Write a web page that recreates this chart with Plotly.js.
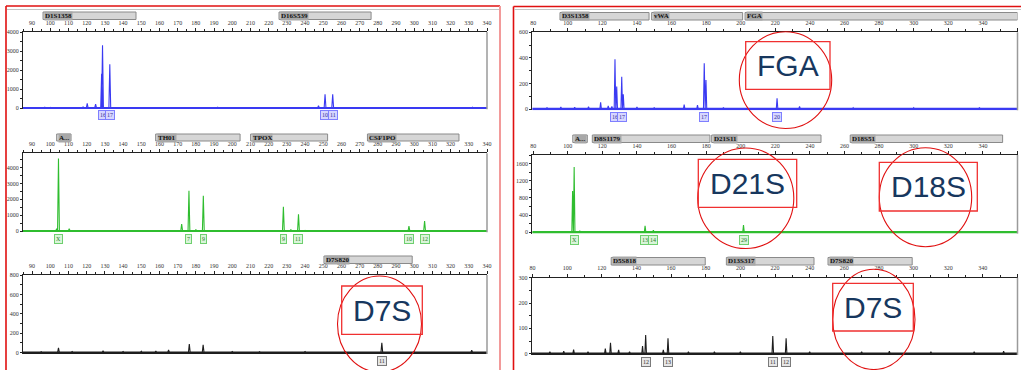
<!DOCTYPE html>
<html>
<head>
<meta charset="utf-8">
<script src="https://cdn.plot.ly/plotly-3.0.1.min.js"></script>
<style>
  html, body { margin: 0; padding: 0; background: #fff; }
  #plot { width: 1021px; height: 370px; }
</style>
</head>
<body>
<div id="plot"></div>
<script>
// ===================== Run A (left profile) =====================
// Blue dye: D1S1358, D16S539
const runABlueLoci = ['D1S1358', 'D16S539'];
const runABlueLociStart = [96, 225.7];
const runABlueLociEnd = [147.1, 276.3];
const runABlueSizes = [92, 97, 100, 107, 118, 120.3, 124.9, 128.2, 128.7, 132.7, 150, 158, 167, 180, 192, 228, 247.4, 251.0, 255.2, 332];
const runABlueHeights = [30, 40, 30, 30, 60, 250, 200, 1800, 3300, 2300, 25, 25, 20, 35, 40, 25, 120, 720, 720, 40];
const runABlueAlleles = ['16', '17', '10', '11'];
const runABlueAlleleSizes = [128.7, 132.7, 251.0, 255.2];

// Green dye: Amelogenin, TH01, TPOX, CSF1PO
const runAGreenLoci = ['A...', 'TH01', 'TPOX', 'CSF1PO'];
const runAGreenLociStart = [103.5, 157.9, 210.1, 274.3];
const runAGreenLociEnd = [111.4, 204.3, 252.4, 324.6];
const runAGreenSizes = [95, 103.5, 104.5, 110.4, 130, 135, 172.2, 176.2, 180.0, 184.1, 228.1, 232.2, 236.4, 240, 297.1, 305.7];
const runAGreenHeights = [40, 150, 4570, 150, 40, 30, 440, 2530, 100, 2220, 1530, 100, 1050, 40, 310, 630];
const runAGreenAlleles = ['X', '7', '9', '9', '11', '10', '12'];
const runAGreenAlleleSizes = [104.5, 176.2, 184.1, 228.1, 236.4, 297.1, 305.7];

// Black dye: D7S820
const runABlackLoci = ['D7S820'];
const runABlackLociStart = [250.4];
const runABlackLociEnd = [298.9];
const runABlackSizes = [95, 104.5, 112, 129, 140, 150, 158, 165, 176.4, 184, 200, 215, 240, 262, 282.2, 300, 331.6];
const runABlackHeights = [10, 50, 12, 20, 12, 14, 18, 30, 90, 80, 12, 10, 12, 10, 103, 10, 25];
const runABlackAlleles = ['11'];
const runABlackAlleleSizes = [282.2];

// ===================== Run B (right profile) =====================
// Blue dye: D3S1358, vWA, FGA
const runBBlueLoci = ['D3S1358', 'vWA', 'FGA'];
const runBBlueLociStart = [95.5, 148.5, 202.5];
const runBBlueLociEnd = [147.0, 201.1, 360];
const runBBlueSizes = [88, 96, 104, 112, 119, 123.4, 125.5, 127.3, 128.3, 131.2, 132.1, 140, 150, 167.3, 175, 178.9, 179.9, 190, 221, 234, 265, 300, 338];
const runBBlueHeights = [12, 15, 14, 18, 52, 25, 20, 390, 175, 253, 115, 15, 12, 35, 30, 357, 227, 12, 84, 20, 10, 10, 12];
const runBBlueAlleles = ['16', '17', '17', '20'];
const runBBlueAlleleSizes = [127.3, 131.2, 178.9, 221];

// Green dye: Amelogenin, D8S1179, D21S11, D18S51
const runBGreenLoci = ['A...', 'D8S1179', 'D21S11', 'D18S51'];
const runBGreenLociStart = [102.9, 114.2, 183.2, 263.3];
const runBGreenLociEnd = [111.3, 182.2, 246.4, 351.4];
const runBGreenSizes = [102.8, 103.7, 107, 144.7, 149.5, 201.6];
const runBGreenHeights = [960, 1520, 30, 150, 50, 170];
const runBGreenAlleles = ['X', '13', '14', '29'];
const runBGreenAlleleSizes = [103.7, 144.7, 149.5, 201.6];

// Black dye: D5S818, D13S317, D7S820
const runBBlackLoci = ['D5S818', 'D13S317', 'D7S820'];
const runBBlackLociStart = [125.4, 191.9, 250.6];
const runBBlackLociEnd = [179.7, 242.5, 299.2];
const runBBlackSizes = [90, 98, 103.7, 112, 122, 125, 129.7, 136, 143.5, 145.3, 155.5, 158.2, 170, 185, 200, 218.7, 226.4, 240, 270, 286, 310, 335, 352];
const runBBlackHeights = [8, 10, 16, 8, 20, 43, 15, 8, 30, 74, 15, 61, 8, 8, 8, 70, 61, 8, 8, 10, 8, 8, 10];
const runBBlackAlleles = ['12', '13', '11', '12'];
const runBBlackAlleleSizes = [145.3, 158.2, 218.7, 226.4];

// Callout labels over the right and left profiles
const calloutTexts = ['D7S', 'FGA', 'D21S', 'D18S', 'D7S'];

// ---------------------------------------------------------------
const W = 1021, H = 370;
const px = v => v / W;
const py = v => 1 - v / H;

const dye = {
  blue:  { line: '#3a3af2', fill: '#d6d6ff', border: '#7f7fff', text: '#30309a' },
  green: { line: '#2fbd2f', fill: '#d9f5d9', border: '#6fcf6f', text: '#2a7a2a' },
  black: { line: '#1e1e1e', fill: '#e6e6e6', border: '#7a7a7a', text: '#333333' }
};

const panels = [
  { d: dye.blue,  sizes: runABlueSizes,  heights: runABlueHeights,  alleles: runABlueAlleles,  alleleSizes: runABlueAlleleSizes,
    loci: runABlueLoci,  lociStart: runABlueLociStart,  lociEnd: runABlueLociEnd,
    xd: [23, 487], yd: [32, 108], xr: [85, 340], ymax: 4000, ydt: 1000, ymin: 500, xdt: 10, xminor: 5, half: 0.5, hdr: [12, 19.5], lab: 115, lw: 2 },
  { d: dye.green, sizes: runAGreenSizes, heights: runAGreenHeights, alleles: runAGreenAlleles, alleleSizes: runAGreenAlleleSizes,
    loci: runAGreenLoci, lociStart: runAGreenLociStart, lociEnd: runAGreenLociEnd,
    xd: [23, 487], yd: [153.3, 231], xr: [85, 340], ymax: 4900, ydt: 1000, ymin: 500, xdt: 10, xminor: 5, half: 0.5, hdr: [134, 141], lab: 238.5, lw: 2 },
  { d: dye.black, sizes: runABlackSizes, heights: runABlackHeights, alleles: runABlackAlleles, alleleSizes: runABlackAlleleSizes,
    loci: runABlackLoci, lociStart: runABlackLociStart, lociEnd: runABlackLociEnd,
    xd: [23, 487], yd: [275, 352.7], xr: [85, 340], ymax: 800, ydt: 200, ymin: 100, xdt: 10, xminor: 5, half: 0.5, hdr: [256, 263.5], lab: 360.5, lw: 2.5 },
  { d: dye.blue,  sizes: runBBlueSizes,  heights: runBBlueHeights,  alleles: runBBlueAlleles,  alleleSizes: runBBlueAlleleSizes,
    loci: runBBlueLoci,  lociStart: runBBlueLociStart,  lociEnd: runBBlueLociEnd,
    xd: [532.3, 1017.5], yd: [32.3, 109], xr: [79.5, 360], ymax: 600, ydt: 200, ymin: 100, xdt: 20, xminor: 10, half: 0.45, hdr: [12.5, 20], lab: 117, lw: 2.5 },
  { d: dye.green, sizes: runBGreenSizes, heights: runBGreenHeights, alleles: runBGreenAlleles, alleleSizes: runBGreenAlleleSizes,
    loci: runBGreenLoci, lociStart: runBGreenLociStart, lociEnd: runBGreenLociEnd,
    xd: [532.3, 1017.5], yd: [155, 232.3], xr: [79.5, 360], ymax: 1800, ydt: 400, ymin: 200, xdt: 20, xminor: 10, half: 0.45, hdr: [135, 142.5], lab: 240, lw: 2.5 },
  { d: dye.black, sizes: runBBlackSizes, heights: runBBlackHeights, alleles: runBBlackAlleles, alleleSizes: runBBlackAlleleSizes,
    loci: runBBlackLoci, lociStart: runBBlackLociStart, lociEnd: runBBlackLociEnd,
    xd: [531.7, 1017.5], yd: [277.7, 353.7], xr: [79.5, 360], ymax: 300, ydt: 100, ymin: 50, xdt: 20, xminor: 10, half: 0.45, hdr: [257.5, 265], lab: 361.5, lw: 2.5 }
];

// Turn a list of peaks into a trace outline: flat baseline with a sharp spike per peak
function profile(sizes, heights, half, xr) {
  const pk = sizes.map((s, i) => [s, heights[i]]).sort((a, b) => a[0] - b[0]);
  const x = [xr[0]], y = [0];
  pk.forEach(([s, h]) => { x.push(s - half, s, s + half); y.push(0, h, 0); });
  x.push(xr[1]); y.push(0);
  return { x, y };
}

const tickFont = { family: 'Liberation Serif, DejaVu Serif, serif', size: 6, color: '#333' };
const traces = [];
const shapes = [];
const annotations = [];
const layout = {
  width: W, height: H, autosize: false,
  margin: { l: 0, r: 0, t: 0, b: 0 },
  paper_bgcolor: '#ffffff', plot_bgcolor: '#ffffff',
  showlegend: false
};

panels.forEach((p, i) => {
  const n = i === 0 ? '' : String(i + 1);
  const xa = 'x' + n, ya = 'y' + n;
  const plotH = p.yd[1] - p.yd[0];
  const pad = 1.3;                                    // keep the thick baseline fully inside the frame
  const yLow = -p.ymax / plotH * pad;

  const pr = profile(p.sizes, p.heights, p.half, p.xr);
  traces.push({ type: 'scatter', mode: 'lines', x: pr.x, y: pr.y, xaxis: xa, yaxis: ya,
                line: { color: p.d.line, width: 1.1 }, hoverinfo: 'skip' });
  // baseline
  traces.push({ type: 'scatter', mode: 'lines', x: p.xr, y: [0, 0], xaxis: xa, yaxis: ya,
                line: { color: p.d.line, width: p.lw }, hoverinfo: 'skip' });

  layout['xaxis' + n] = {
    domain: [px(p.xd[0]), px(p.xd[1])], range: p.xr, anchor: ya, side: 'top',
    showline: true, linecolor: '#222', linewidth: 1, showgrid: false, zeroline: false,
    tick0: 0, dtick: p.xdt, ticks: 'outside', ticklen: 3, tickcolor: '#222', tickwidth: 1,
    minor: { dtick: p.xminor, ticks: 'outside', ticklen: 2, tickcolor: '#222', showgrid: false },
    tickfont: tickFont, ticklabelstandoff: 1, fixedrange: true
  };
  layout['yaxis' + n] = {
    domain: [py(p.yd[1] + pad), py(p.yd[0])], range: [yLow, p.ymax], anchor: xa,
    showline: true, linecolor: '#222', linewidth: 1, showgrid: false, zeroline: false,
    tick0: 0, dtick: p.ydt, ticks: 'outside', ticklen: 2, tickcolor: '#222',
    minor: { dtick: p.ymin, ticks: 'outside', ticklen: 2, tickcolor: '#222', showgrid: false },
    tickfont: tickFont, ticklabelstandoff: 0, fixedrange: true
  };

  // grey right-hand frame edge
  shapes.push({ type: 'line', xref: 'paper', yref: 'paper',
                x0: px(p.xd[1]), x1: px(p.xd[1]), y0: py(p.yd[1] + pad), y1: py(p.yd[0]),
                line: { color: '#9a9a9a', width: 1.5 } });

  // locus header bars
  p.loci.forEach((name, k) => {
    shapes.push({ type: 'rect', xref: xa, yref: 'paper',
                  x0: p.lociStart[k], x1: p.lociEnd[k], y0: py(p.hdr[1]), y1: py(p.hdr[0]),
                  fillcolor: '#d6d6d6', line: { color: '#8a8a8a', width: 1 } });
    annotations.push({ xref: xa, yref: 'paper', x: p.lociStart[k], y: py((p.hdr[0] + p.hdr[1]) / 2),
                       xanchor: 'left', yanchor: 'middle', xshift: 1, text: name, showarrow: false,
                       bgcolor: '#a8a8a8', borderpad: 0,
                       font: { family: 'Liberation Serif, DejaVu Serif, serif', size: 7, color: '#111', weight: 'bold' } });
  });

  // allele call boxes under the peaks
  p.alleles.forEach((a, k) => {
    annotations.push({ xref: xa, yref: 'paper', x: p.alleleSizes[k], y: py(p.lab),
                       xanchor: 'center', yanchor: 'middle', text: a, showarrow: false,
                       bgcolor: p.d.fill, bordercolor: p.d.border, borderwidth: 1, borderpad: 1,
                       font: { family: 'Liberation Serif, DejaVu Serif, serif', size: 6, color: p.d.text } });
  });
});

// window frames of the two profiles
const red = '#e01010';
shapes.push(
  { type: 'line', xref: 'paper', yref: 'paper', x0: px(6), x1: px(6), y0: py(370), y1: py(6), line: { color: red, width: 1.6 } },
  { type: 'line', xref: 'paper', yref: 'paper', x0: px(6), x1: px(500), y0: py(6), y1: py(6), line: { color: red, width: 1.6 } },
  { type: 'line', xref: 'paper', yref: 'paper', x0: px(500), x1: px(500), y0: py(370), y1: py(6), line: { color: '#f29a9a', width: 2 } },
  { type: 'line', xref: 'paper', yref: 'paper', x0: px(7), x1: px(499), y0: py(9.5), y1: py(9.5), line: { color: '#c4c4c4', width: 1 } },
  { type: 'line', xref: 'paper', yref: 'paper', x0: px(513.5), x1: px(513.5), y0: py(370), y1: py(6.5), line: { color: red, width: 1.6 } },
  { type: 'line', xref: 'paper', yref: 'paper', x0: px(513.5), x1: px(1021), y0: py(6.5), y1: py(6.5), line: { color: red, width: 1.6 } },
  { type: 'line', xref: 'paper', yref: 'paper', x0: px(514), x1: px(1021), y0: py(9.5), y1: py(9.5), line: { color: '#c4c4c4', width: 1 } }
);

// circled callouts: [ellipse x0, x1, y0, y1], [box x0, x1, y0, y1]
const callouts = [
  { e: [337.5, 421.5, 276, 372],   b: [341.7, 422.3, 286, 334.3] },
  { e: [739.3, 831.7, 31.7, 128.5], b: [745.7, 830, 41.7, 89.3] },
  { e: [697.7, 793.8, 148, 248.5], b: [698.3, 796.7, 159.3, 207.3] },
  { e: [879.3, 971.7, 147.7, 246.7], b: [879.3, 977.3, 162.3, 211] },
  { e: [832.7, 915, 269.3, 369.5],  b: [832.7, 913.3, 283.3, 331] }
];
callouts.forEach((c, k) => {
  shapes.push({ type: 'circle', xref: 'paper', yref: 'paper',
                x0: px(c.e[0]), x1: px(c.e[1]), y0: py(c.e[3]), y1: py(c.e[2]),
                line: { color: red, width: 1.1 } });
  shapes.push({ type: 'rect', xref: 'paper', yref: 'paper',
                x0: px(c.b[0]), x1: px(c.b[1]), y0: py(c.b[3]), y1: py(c.b[2]),
                line: { color: '#f03030', width: 1.3 } });
  annotations.push({ xref: 'paper', yref: 'paper', x: px((c.b[0] + c.b[1]) / 2), y: py((c.b[2] + c.b[3]) / 2),
                     xanchor: 'center', yanchor: 'middle', text: calloutTexts[k], showarrow: false,
                     font: { family: 'Liberation Sans, Arial, sans-serif', size: 30, color: '#17375e' } });
});

layout.shapes = shapes;
layout.annotations = annotations;

Plotly.newPlot('plot', traces, layout, { staticPlot: true, displayModeBar: false });
</script>
</body>
</html>
